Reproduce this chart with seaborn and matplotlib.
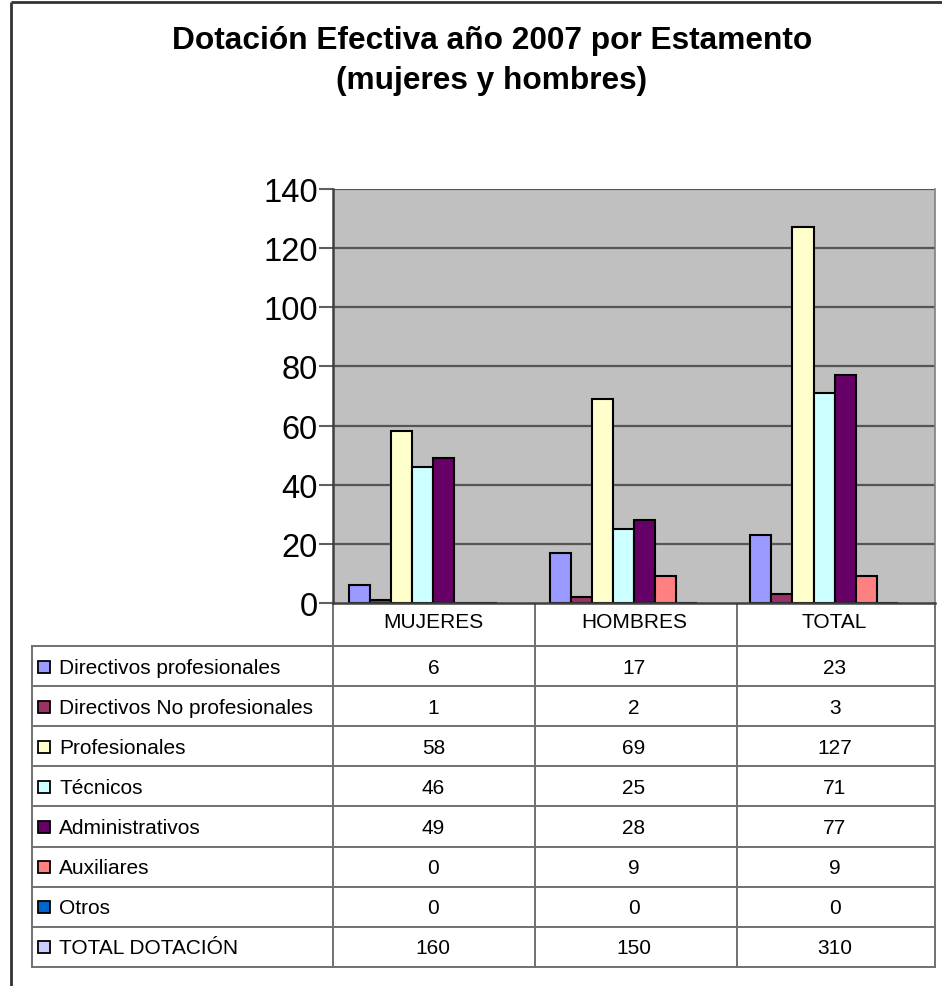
import matplotlib
matplotlib.use("Agg")
import matplotlib.pyplot as plt
import matplotlib.transforms as mtransforms
from matplotlib.patches import Rectangle
import seaborn as sns
import pandas as pd

# ---------------- data ----------------
categories = ["MUJERES", "HOMBRES", "TOTAL"]
series_names = ["Directivos profesionales", "Directivos No profesionales", "Profesionales",
                "Técnicos", "Administrativos", "Auxiliares", "Otros", "TOTAL DOTACIÓN"]
directivos_prof = [6, 17, 23]
directivos_no_prof = [1, 2, 3]
profesionales = [58, 69, 127]
tecnicos = [46, 25, 71]
administrativos = [49, 28, 77]
auxiliares = [0, 9, 9]
otros = [0, 0, 0]
total_dotacion = [160, 150, 310]   # stored as text in source table -> not drawn as bars
colors = ["#9999FF", "#993366", "#FFFFCC", "#CCFFFF", "#660066", "#FF8080", "#0066CC", "#CCCCFF"]
yticks = [0, 20, 40, 60, 80, 100, 120, 140]
title_lines = ["Dotación Efectiva año 2007 por Estamento", "(mujeres y hombres)"]

plotted = {
    "Directivos profesionales": directivos_prof,
    "Directivos No profesionales": directivos_no_prof,
    "Profesionales": profesionales,
    "Técnicos": tecnicos,
    "Administrativos": administrativos,
    "Auxiliares": auxiliares,
    "Otros": otros,
}
table_values = list(plotted.values()) + [total_dotacion]

rows = []
for s, vals in plotted.items():
    for c, v in zip(categories, vals):
        rows.append({"cat": c, "serie": s, "valor": v})
df = pd.DataFrame(rows)

# ---------------- figure ----------------
W, H = 942, 987
fig = plt.figure(figsize=(W / 100, H / 100), dpi=100)
fig.patch.set_facecolor("white")

# overlay axes in pixel coordinates for table / frame
ov = fig.add_axes([0, 0, 1, 1])
ov.set_xlim(0, W)
ov.set_ylim(H, 0)
ov.axis("off")

ax = fig.add_axes([333 / W, (H - 604) / H, (935 - 333) / W, (604 - 190) / H])
ax.set_facecolor("#C0C0C0")

sns.barplot(data=df, x="cat", y="valor", hue="serie", order=categories,
            hue_order=series_names, palette=dict(zip(series_names, colors)),
            width=8 / 9.5, gap=0, edgecolor="black", linewidth=1.5,
            saturation=1, legend=False, errorbar=None, ax=ax, zorder=3)

ax.set_xlim(-0.5, 2.5)
ax.set_ylim(0, 140)
ax.set_yticks(yticks)
ax.set_yticklabels([str(t) for t in yticks], fontsize=23.5, family="Liberation Sans")
ax.tick_params(axis="y", length=10, width=1.5, color="#606060", pad=1)
ax.tick_params(axis="x", length=0, labelbottom=False)
ax.set_xlabel("")
ax.set_ylabel("")
for t in yticks[1:]:
    ax.axhline(t, color="#555555", lw=1.6, zorder=1)
for side in ["left", "bottom"]:
    ax.spines[side].set_color("#404040")
    ax.spines[side].set_linewidth(1.8)
    ax.spines[side].set_zorder(5)
ax.spines["top"].set_visible(False)
ax.spines["right"].set_color("#808080")
ax.spines["right"].set_linewidth(1.2)

# ---------------- title ----------------
for k, line in enumerate(title_lines):
    fig.text(492 / W, 1 - (41 + 40 * k) / H, line, ha="center", va="center", fontsize=22.8,
             fontweight="bold", family="Liberation Sans")

# ---------------- outer frame ----------------
ov.plot([11, W], [3, 3], color="#333333", lw=2, solid_capstyle="butt")
ov.plot([11, 11], [3, H], color="#333333", lw=2, solid_capstyle="butt")

# ---------------- data table ----------------
lc = "#707070"
lw = 1.4
x_bounds = [333, 535, 737, 935]
row_top = 647
row_h = 40.1
n_rows = len(series_names)
bottom = row_top + n_rows * row_h
for x in x_bounds:
    ov.plot([x, x], [604, bottom], color=lc, lw=lw)
ov.plot([32, 32], [row_top, bottom], color=lc, lw=lw)
for i in range(n_rows + 1):
    y = row_top + i * row_h
    ov.plot([32, 935], [y, y], color=lc, lw=lw)

blend = mtransforms.blended_transform_factory(ax.transData, ov.transData)
for i, c in enumerate(categories):
    ov.text(i, 623, c, transform=blend, ha="center", va="center", fontsize=15,
            family="Liberation Sans")

for r, (name, col, vals) in enumerate(zip(series_names, colors, table_values)):
    yc = row_top + r * row_h + row_h / 2 + 1
    ov.add_patch(Rectangle((38, yc - 6.5), 12, 12, facecolor=col, edgecolor="black",
                           lw=1.3, zorder=5))
    ov.text(59, yc, name, ha="left", va="center", fontsize=15, family="Liberation Sans")
    for i, v in enumerate(vals):
        ov.text(i, yc, str(v), transform=blend, ha="center", va="center", fontsize=15,
                family="Liberation Sans")

fig.savefig("out.png", dpi=100, facecolor="white")
